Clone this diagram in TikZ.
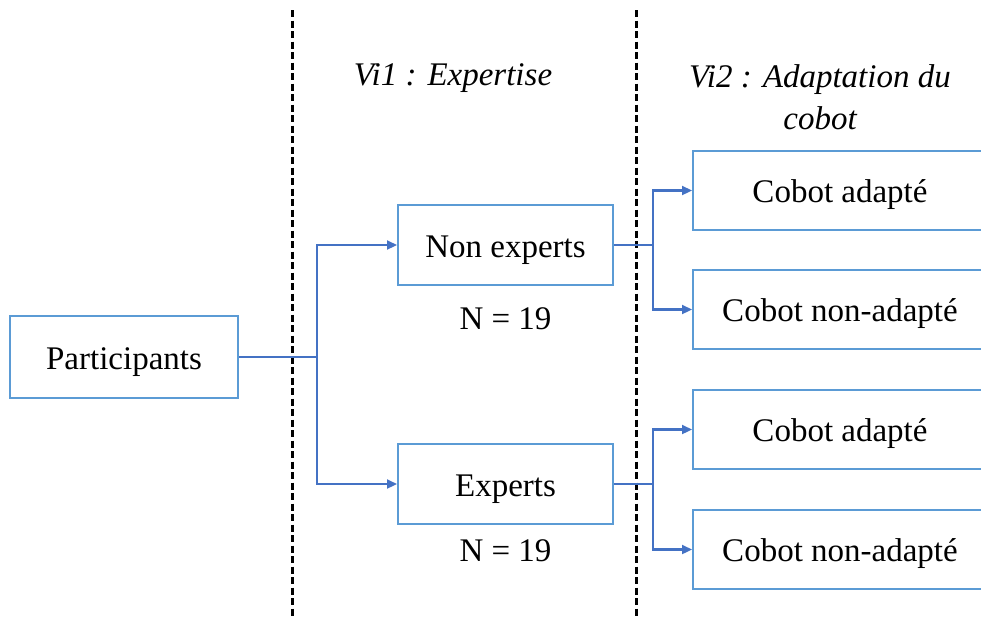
\documentclass[tikz,border=0pt]{standalone}
\usepackage{fontspec}
\setmainfont{Liberation Serif}
\usetikzlibrary{arrows.meta}
\definecolor{boxblue}{HTML}{5B9BD5}
\definecolor{linkblue}{HTML}{4472C4}
\begin{document}
\begin{tikzpicture}[x=1pt,y=-1pt,
  box/.style={draw=boxblue,line width=2pt,fill=white,inner sep=0pt,
    text height=31pt,text depth=7pt,
    font=\fontsize{33}{40}\selectfont},
  link/.style={draw=linkblue,line width=2.2pt},
  arr/.style={link,-{Triangle[length=10pt,width=9pt]}},
  sep/.style={draw=black,line width=3pt,dash pattern=on 7pt off 3.5pt},
  lbl/.style={font=\fontsize{33}{40}\selectfont,inner sep=0pt},
  head/.style={font=\fontsize{33}{42}\selectfont\itshape,inner sep=0pt,align=center}]
\useasboundingbox (0,0) rectangle (981,616);
\clip (0,0) rectangle (981,616);
% separators
\coordinate (s1t) at (292,10); \coordinate (s1b) at (292,616);
\coordinate (s2t) at (636,10); \coordinate (s2b) at (636,616);
\draw[sep] (s1t) -- (s1b);
\draw[sep] (s2t) -- (s2b);
% headings
\node[head] (h1) at (453,78) {Vi1 : Expertise};
\node[head] (h2) at (820,97) {Vi2 : Adaptation du\\cobot};
% boxes
\node[box,minimum width=228pt,minimum height=82pt] (p) at (124,357) {Participants};
\node[box,minimum width=215pt,minimum height=80pt] (ne) at (505.5,245) {Non experts};
\node[box,minimum width=215pt,minimum height=80pt] (ex) at (505.5,484) {Experts};
\node[lbl] (n1) at (505.5,319) {N = 19};
\node[lbl] (n2) at (505.5,551) {N = 19};
\node[box,minimum width=294pt,minimum height=79pt] (ca1) at (840,190.5) {Cobot adapté};
\node[box,minimum width=294pt,minimum height=79pt] (cn1) at (840,309.5) {Cobot non-adapté};
\node[box,minimum width=294pt,minimum height=79pt] (ca2) at (840,429.5) {Cobot adapté};
\node[box,minimum width=294pt,minimum height=79pt] (cn2) at (840,549.5) {Cobot non-adapté};
% connectors
\coordinate (f0) at (317,357);
\coordinate (f1) at (653,245);
\coordinate (f2) at (653,484);
\draw[link] (p.east) -- (f0);
\draw[arr] (f0) |- (ne.west);
\draw[arr] (f0) |- (ex.west);
\draw[link] (ne.east) -- (f1);
\draw[arr] (f1) |- (ca1.west);
\draw[arr] (f1) |- (cn1.west);
\draw[link] (ex.east) -- (f2);
\draw[arr] (f2) |- (ca2.west);
\draw[arr] (f2) |- (cn2.west);
\end{tikzpicture}
\end{document}
